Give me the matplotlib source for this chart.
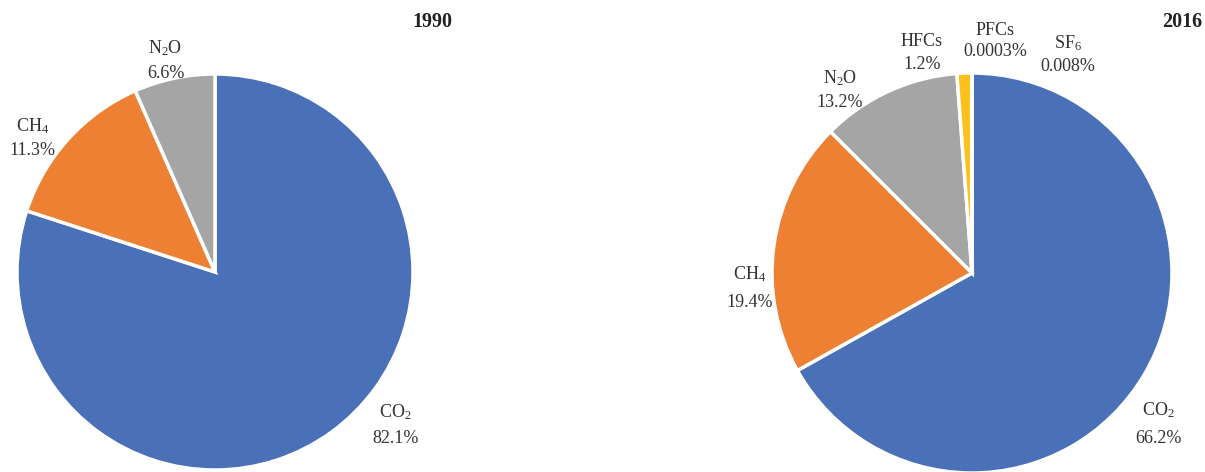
import numpy as np
import matplotlib
matplotlib.use("Agg")
import matplotlib.pyplot as plt

plt.rcParams['font.family'] = ['Liberation Serif', 'DejaVu Serif']
plt.rcParams['mathtext.fontset'] = 'custom'
plt.rcParams['mathtext.rm'] = 'Liberation Serif'
plt.rcParams['mathtext.it'] = 'Liberation Serif'

# data
gases_1990 = ['CO$_2$', 'CH$_4$', 'N$_2$O']
text_1990 = ['82.1%', '11.3%', '6.6%']
# slice sizes as drawn in the figure (angles)
slice_1990 = [80.0, 13.4, 6.6]

gases_2016 = ['CO$_2$', 'CH$_4$', 'N$_2$O', 'HFCs', 'PFCs', 'SF$_6$']
text_2016 = ['66.2%', '19.4%', '13.2%', '1.2%', '0.0003%', '0.008%']
slice_2016 = [66.9, 20.6, 11.3, 1.2, 0.0003, 0.008]

colors = ['#4a70b7', '#ee8033', '#a5a5a5', '#fcc21b', '#5B9BD5', '#70AD47']
txt_color = '#333333'

# label spots in pie units (radius 1) and line spacing
pos_1990 = [(0.91, -0.77), (-0.92, 0.68), (-0.25, 1.07)]
gap_1990 = [1.6, 1.45, 1.5]
pos_2016 = [(0.93, -0.755), (-1.11, -0.075), (-0.66, 0.915),
            (-0.25, 1.10), (0.115, 1.16), (0.48, 1.095)]
gap_2016 = [1.75, 1.75, 1.45, 1.45, 1.3, 1.35]

W, H = 1205, 472
fig = plt.figure(figsize=(W / 100, H / 100), dpi=100)


def draw_pie(cx, cy, r, names, vals, pct, spots, gaps, title, title_x):
    ax = fig.add_axes([(cx - r) / W, (H - cy - r) / H, 2 * r / W, 2 * r / H])
    ax.pie(vals, colors=colors[:len(vals)], startangle=90, counterclock=False,
           wedgeprops=dict(edgecolor='white', linewidth=2.5))
    ax.set_xlim(-1, 1)
    ax.set_ylim(-1, 1)
    ax.set_aspect('equal')
    ax.axis('off')
    for n, p, (x, y), ls in zip(names, pct, spots, gaps):
        ax.text(x, y, n + '\n' + p, ha='center', va='center', fontsize=13,
                color=txt_color, linespacing=ls, clip_on=False)
    fig.text(title_x / W, 1 - 22 / H, title, ha='right', va='center',
             fontsize=14.5, fontweight='bold', color='#222222')


draw_pie(215, 272, 198, gases_1990, slice_1990, text_1990, pos_1990, gap_1990, '1990', 452)
draw_pie(972, 273, 200, gases_2016, slice_2016, text_2016, pos_2016, gap_2016, '2016', 1202)

fig.savefig('out.png', dpi=100)
